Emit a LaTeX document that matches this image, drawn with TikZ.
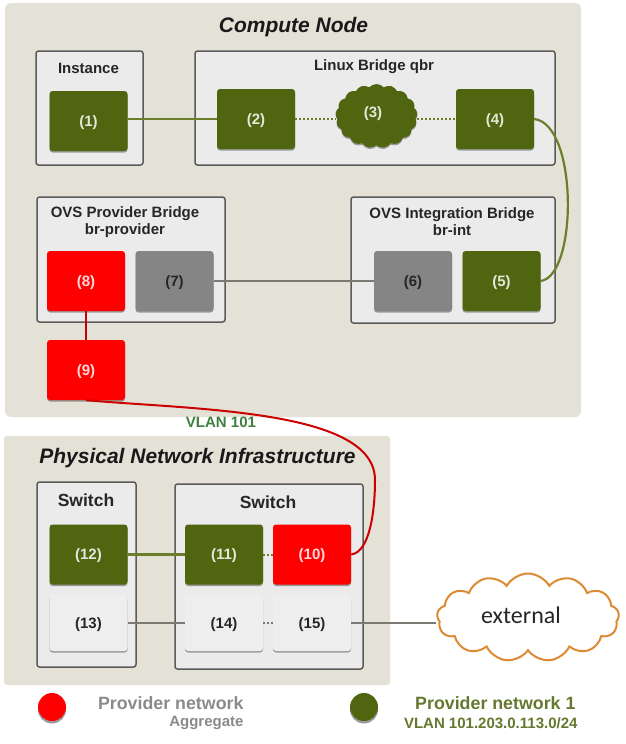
\documentclass[tikz,border=0pt]{standalone}
\usepackage{fontspec}
\setmainfont{Liberation Sans}
\newfontfamily\cloudfont{Carlito}
\usetikzlibrary{positioning,shadows,shapes.symbols}
\definecolor{panelbg}{HTML}{E4E1D7}
\definecolor{boxbg}{HTML}{EBEBEB}
\definecolor{boxline}{HTML}{5A5A5A}
\definecolor{portgreen}{HTML}{4F6510}
\definecolor{wiregreen}{HTML}{6B7F2A}
\definecolor{portgrey}{HTML}{858585}
\definecolor{wiregrey}{HTML}{7A7A72}
\definecolor{portlight}{HTML}{EEEEEE}
\definecolor{cloudline}{HTML}{DD8A35}
\definecolor{legendgrey}{HTML}{8A8A8A}
\definecolor{legendgreen}{HTML}{66782F}
\definecolor{vlangreen}{HTML}{3F7F3F}
\tikzset{
    bridge/.style = {draw=boxline, fill=boxbg, line width=1.5pt, rounded corners=2.5pt},
    port/.style = {rectangle, rounded corners=3pt, minimum width=78pt, minimum height=60pt,
                   inner sep=0pt, text depth=0pt, font=\bfseries\fontsize{15}{17}\selectfont,
                   drop shadow={shadow xshift=0pt, shadow yshift=-1.5pt, fill=black, opacity=.35}},
    greenport/.style = {port, fill=portgreen, text=white!85!portgreen},
    redport/.style = {port, fill=red, text=white!85!red},
    greyport/.style = {port, fill=portgrey, text=black!85},
    lightport/.style = {port, fill=portlight, text=black!85, minimum height=56pt},
    boxtitle/.style = {font=\bfseries\fontsize{15}{17}\selectfont, align=center, text=black!85},
    switchtitle/.style = {boxtitle, font=\bfseries\fontsize{17.5}{20}\selectfont},
    paneltitle/.style = {font=\bfseries\itshape\fontsize{21}{24}\selectfont, text=black!90},
    greenwire/.style = {draw=wiregreen, line width=2.2pt},
    greenlink/.style = {draw=wiregreen, line width=2pt, dotted},
    greywire/.style = {draw=wiregrey, line width=2pt},
    greylink/.style = {draw=wiregrey, line width=2pt, dotted},
    redwire/.style = {draw=red!80!black, line width=2pt},
    legenddot/.style = {circle, minimum size=28pt, inner sep=0pt,
                        drop shadow={shadow xshift=0pt, shadow yshift=-2.5pt, fill=black, opacity=.4}},
    legendbig/.style = {font=\bfseries\fontsize{17.8}{20}\selectfont, anchor=east},
    legendsmall/.style = {font=\bfseries\fontsize{15}{17}\selectfont, anchor=east}
}
\begin{document}
\begin{tikzpicture}[x=1pt, y=-1pt]
    \useasboundingbox (0,0) rectangle (626,744);
    % panels
    \fill[panelbg, rounded corners=6pt] (5,3) rectangle (581,417);
    \fill[panelbg, rounded corners=3pt] (4,436) rectangle (390,685);
    \node[paneltitle] (computetitle) at (293.5,27) {Compute Node};
    \node[paneltitle] (phystitle) at (197.5,458) {Physical Network Infrastructure};

    % bridges
    \draw[bridge] (36,51) rectangle (143,165);
    \draw[bridge] (195,51) rectangle (555,165);
    \draw[bridge] (37,197) rectangle (225,322);
    \draw[bridge] (351,197) rectangle (555,323);
    \draw[bridge] (37,482) rectangle (136,667);
    \draw[bridge] (175,484) rectangle (363,669);
    \node[boxtitle] (instance) at (88.5,68) {Instance};
    \node[boxtitle] (qbr) at (374,67) {Linux Bridge qbr};
    \node[boxtitle] (brprovider) at (125,222) {OVS Provider Bridge\\br-provider};
    \node[boxtitle] (brint) at (452,222) {OVS Integration Bridge\\br-int};
    \node[switchtitle] (switchleft) at (86,500) {Switch};
    \node[switchtitle] (switchright) at (268,502) {Switch};

    % ports
    \node[greenport] (n1) at (88.5,121) {(1)};
    \node[greenport] (n2) at (256,119) {(2)};
    \node[cloud, cloud puffs=17, cloud puff arc=100, aspect=1.2, minimum width=82pt, minimum height=64pt,
          inner sep=0pt, fill=portgreen,
          drop shadow={shadow xshift=0pt, shadow yshift=-1.5pt, fill=black, opacity=.35}] (n3) at (376.5,116) {};
    \node[text=white!85!portgreen, font=\bfseries\fontsize{15}{17}\selectfont] (n3label) at (373,114) {(3)};
    \node[greenport] (n4) at (495,119) {(4)};
    \node[greenport] (n5) at (501.5,281) {(5)};
    \node[greyport] (n6) at (413,281) {(6)};
    \node[greyport] (n7) at (174.5,281) {(7)};
    \node[redport] (n8) at (86,281) {(8)};
    \node[redport] (n9) at (86,370) {(9)};
    \node[redport] (n10) at (312,554.5) {(10)};
    \node[greenport] (n11) at (224,554.5) {(11)};
    \node[greenport] (n12) at (88.5,554.5) {(12)};
    \node[lightport] (n13) at (88.5,623) {(13)};
    \node[lightport] (n14) at (224,623) {(14)};
    \node[lightport] (n15) at (312,623) {(15)};

    % external cloud
    \node[cloud, cloud puffs=13, cloud puff arc=120, aspect=2.1, draw=cloudline, line width=2pt, fill=white,
          minimum width=182pt, minimum height=88pt, inner sep=0pt] (external) at (528,617.5) {};
    \node[font=\cloudfont\fontsize{24}{28}\selectfont, text=black!85] (externallabel) at (521,615) {external};

    % wires
    \draw[greenwire] (n1.east |- n2) -- (n2.west);
    \draw[greenlink] (n2.east) -- (n3.west |- n2);
    \draw[greenlink] (n3.east |- n4) -- (n4.west);
    \draw[greenwire] (n4.east) .. controls +(44,5) and +(37,-5) .. (n5.east);
    \draw[greywire] (n6.west) -- (n7.east);
    \draw[redwire] (n8.south) -- (n9.north);
    \draw[redwire] (n9.south) .. controls (200,410) and (375,410) .. (375,480)
                              .. controls (375,510) and (370,552) .. (n10.east);
    \draw[greenlink] (n10.west) -- (n11.east);
    \draw[greenwire] (n11.west) -- (n12.east);
    \draw[greywire] (n13.east) -- (n14.west);
    \draw[greylink] (n14.east) -- (n15.west);
    \draw[greywire] (n15.east) -- (external.west |- n15.east);

    \node[font=\bfseries\fontsize{15}{17}\selectfont, text=vlangreen] (vlan) at (221,422) {VLAN 101};

    % legend
    \node[legenddot, fill=red] (legendred) at (52,707) {};
    \node[legenddot, fill=portgreen] (legendgreen) at (364,707) {};
    \node[legendbig, text=legendgrey] (aggtitle) at (247,703) {Provider network};
    \node[legendsmall, text=legendgrey] (aggsub) at (247,723) {Aggregate};
    \node[legendbig, text=legendgreen] (nettitle) at (579,703) {Provider network 1};
    \node[legendsmall, text=legendgreen] (netsub) at (581,723) {VLAN 101.203.0.113.0/24};
\end{tikzpicture}
\end{document}
